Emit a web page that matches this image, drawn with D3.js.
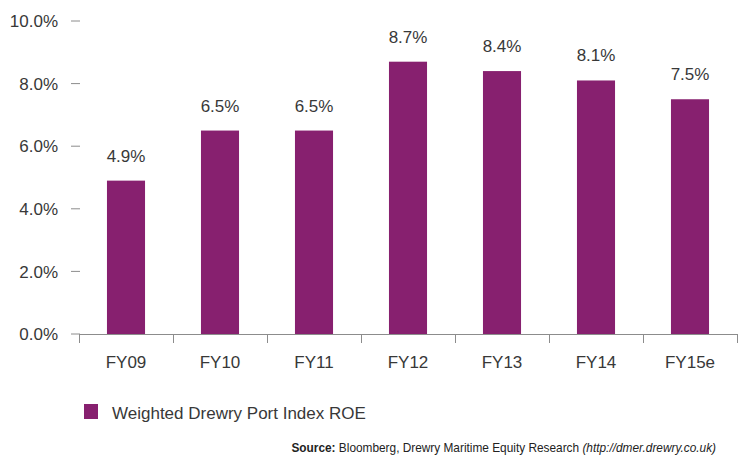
<!DOCTYPE html>
<html><head><meta charset="utf-8">
<script src="https://cdn.jsdelivr.net/npm/d3@7"></script>
<style>
body{margin:0;background:#fff;}
text{font-family:"Liberation Sans",Arial,Helvetica,sans-serif;}
</style></head>
<body>
<svg id="c" width="743" height="461"></svg>
<script>
const categories = ["FY09","FY10","FY11","FY12","FY13","FY14","FY15e"];
const roeValues = [4.9, 6.5, 6.5, 8.7, 8.4, 8.1, 7.5];
const valueLabels = ["4.9%","6.5%","6.5%","8.7%","8.4%","8.1%","7.5%"];
const yTicks = [0, 2, 4, 6, 8, 10];
const seriesName = "Weighted Drewry Port Index ROE";

const svg = d3.select("#c");
const barColor = "#87206F";
const textColor = "#383838";
const axisColor = "#8c8c8c";

const x = d3.scaleBand().domain(categories).range([79, 737]).paddingInner(0.595).paddingOuter(0.2975);
const y = d3.scaleLinear().domain([0, 10]).range([334, 21]);

// y ticks
const yg = svg.append("g");
yTicks.forEach(t => {
  yg.append("line").attr("x1", 71).attr("x2", 80).attr("y1", y(t)).attr("y2", y(t))
    .attr("stroke", axisColor).attr("stroke-width", 1);
  yg.append("text").attr("x", 58).attr("y", y(t)).attr("dy", "0.36em")
    .attr("text-anchor", "end").attr("font-size", 17).attr("fill", textColor)
    .text(t.toFixed(1) + "%");
});

// bars
svg.append("g").selectAll("rect").data(categories).join("rect")
  .attr("x", d => x(d)).attr("width", x.bandwidth())
  .attr("y", (d,i) => y(roeValues[i])).attr("height", (d,i) => y(0) - y(roeValues[i]))
  .attr("fill", barColor);

// value labels
svg.append("g").selectAll("text").data(categories).join("text")
  .attr("x", d => x(d) + x.bandwidth()/2)
  .attr("y", (d,i) => y(roeValues[i]) - 19)
  .attr("text-anchor", "middle").attr("font-size", 17).attr("fill", textColor)
  .text((d,i) => valueLabels[i]);

// x axis
const xg = svg.append("g");
xg.append("line").attr("x1", 79).attr("x2", 737).attr("y1", y(0)+0.5).attr("y2", y(0)+0.5)
  .attr("stroke", axisColor).attr("stroke-width", 1);
const boundaries = d3.range(categories.length + 1).map(i => 79 + i * x.step());
boundaries.forEach(b => {
  xg.append("line").attr("x1", Math.round(b)+0.5).attr("x2", Math.round(b)+0.5)
    .attr("y1", y(0)).attr("y2", y(0)+9).attr("stroke", axisColor).attr("stroke-width", 1);
});
xg.selectAll("text.cat").data(categories).join("text")
  .attr("class","cat")
  .attr("x", d => x(d) + x.bandwidth()/2).attr("y", 368)
  .attr("text-anchor", "middle").attr("font-size", 17).attr("fill", textColor)
  .text(d => d);

// legend
svg.append("rect").attr("x", 84).attr("y", 404).attr("width", 14).attr("height", 15).attr("fill", barColor);
svg.append("text").attr("x", 112).attr("y", 419).attr("font-size", 17).attr("fill", textColor).text(seriesName);

// source
const src = svg.append("text").attr("x", 716).attr("y", 452).attr("text-anchor", "end")
  .attr("font-size", 11.85).attr("fill", "#222");
src.append("tspan").attr("font-weight", "bold").text("Source:");
src.append("tspan").text(" Bloomberg, Drewry Maritime Equity Research ");
src.append("tspan").attr("font-style", "italic").text("(http://dmer.drewry.co.uk)");
</script>
</body></html>
